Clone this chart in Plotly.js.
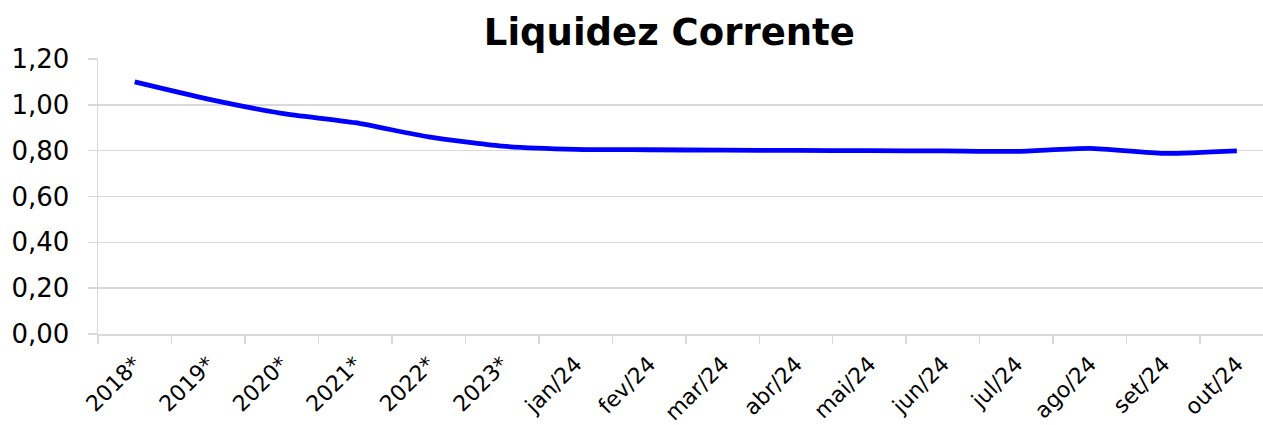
<!DOCTYPE html>
<html><head><meta charset="utf-8">
<script src="https://cdn.plot.ly/plotly-3.0.1.min.js"></script>
<style>html,body{margin:0;padding:0;background:#fff}#c{width:1263px;height:425px}</style>
</head><body><div id="c"></div>
<script>
const categories = ["2018*","2019*","2020*","2021*","2022*","2023*","jan/24","fev/24","mar/24","abr/24","mai/24","jun/24","jul/24","ago/24","set/24","out/24"];
const liquidez = [1.10,1.025,0.963,0.922,0.860,0.820,0.806,0.804,0.802,0.801,0.800,0.799,0.797,0.810,0.788,0.799];
const yTicks = [0,0.2,0.4,0.6,0.8,1.0,1.2];
const yTickText = yTicks.map(v => v.toFixed(2).replace('.', ','));

const font = "DejaVu Sans, Verdana, sans-serif";
Plotly.newPlot('c', [{
  x: categories, y: liquidez, type: 'scatter', mode: 'lines',
  line: {color: '#0000FF', width: 4.8, shape: 'spline', smoothing: 0.6},
  hoverinfo: 'skip'
}], {
  width: 1263, height: 425,
  margin: {l: 97.6, r: 0, t: 59, b: 91},
  paper_bgcolor: '#fff', plot_bgcolor: '#fff',
  showlegend: false,
  title: {text: '<b>Liquidez Corrente</b>', x: 0.53, xanchor: 'center', y: 0.925, yanchor: 'middle',
          font: {family: font, size: 37, color: '#000'}},
  xaxis: {
    type: 'category', range: [-0.5, 15.356], fixedrange: true,
    tickangle: -45, tickson: 'boundaries', ticks: 'outside', ticklen: 8, tickcolor: '#d9d9d9', tickwidth: 1.5,
    showgrid: false, showline: true, linecolor: '#d9d9d9', linewidth: 1.5,
    ticklabelstandoff: 7,
    tickfont: {family: font, size: 22, color: '#000'}, zeroline: false
  },
  yaxis: {
    range: [0, 1.2], tickvals: yTicks, ticktext: yTickText.map(t => t + '\u2002'),
    ticks: 'outside', ticklen: 9, tickcolor: '#d9d9d9', tickwidth: 1.5,
    showgrid: true, gridcolor: '#d9d9d9', gridwidth: 1.5,
    showline: true, linecolor: '#d9d9d9', linewidth: 1.5, zeroline: false,
    tickfont: {family: font, size: 26, color: '#000'}
  }
}, {staticPlot: true, displayModeBar: false});
</script></body></html>
